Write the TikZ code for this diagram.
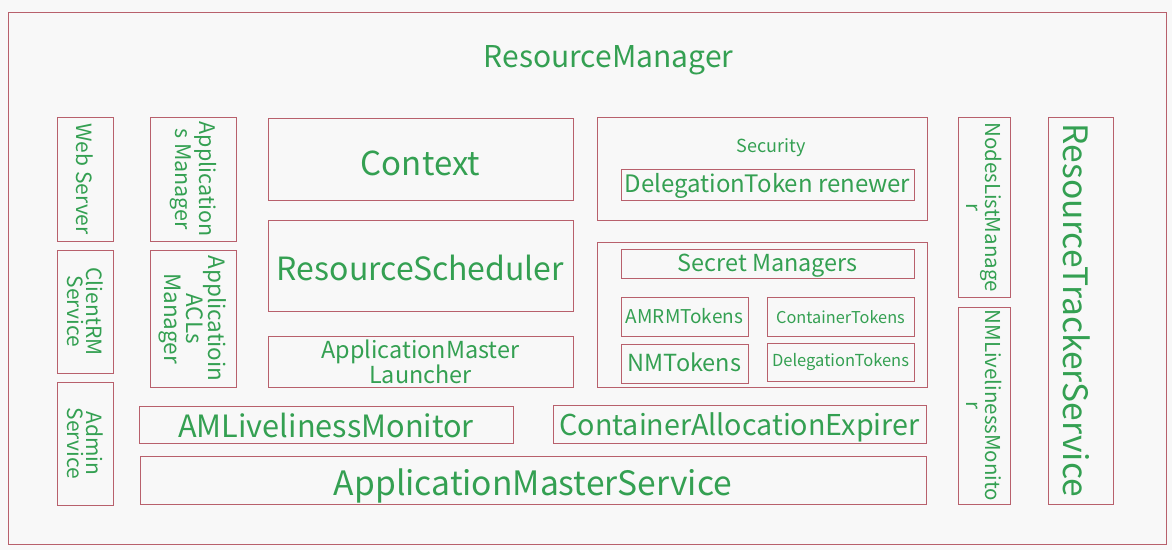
\documentclass[tikz,border=0pt]{standalone}
\usepackage{fontspec}
\setmainfont{Noto Sans CJK SC}
\usetikzlibrary{positioning}
\definecolor{rmgreen}{RGB}{52,160,82}
\definecolor{rmline}{RGB}{184,96,108}
\definecolor{rmbg}{RGB}{248,248,248}

\begin{document}
\begin{tikzpicture}[x=1pt, y=-1pt,
  box/.style={draw=rmline, line width=0.8pt, inner sep=0pt, align=center, text=rmgreen},
  vbox/.style={box, rotate=-90},
  fs/.style 2 args={font=\fontsize{#1}{#2}\selectfont},
  bl/.style={text height=#1, text depth=0pt}
]
% Canvas and outer frame
\fill[rmbg] (0,0) rectangle (1172,550);
\draw[rmline, line width=0.8pt] (8,12) rectangle (1166,544);
\node[text=rmgreen, inner sep=0pt, fs={30}{32}, bl=20pt] (rm) at (608.5,57) {ResourceManager};

% Left column: services
\node[vbox, minimum width=124pt, minimum height=56pt, fs={21}{19}] (web)    at (85,179)   {Web Server};
\node[vbox, minimum width=123pt, minimum height=56pt, fs={21}{19}] (client) at (85,311.5) {ClientRM\\Service};
\node[vbox, minimum width=123pt, minimum height=56pt, fs={21}{19}] (admin)  at (85,443.5) {Admin\\Service};

% Application managers
\node[vbox, minimum width=124pt, minimum height=86pt, fs={21.5}{24}] (apps) at (193,179)   {Application\\s Manager};
\node[vbox, minimum width=137pt, minimum height=86pt, fs={22.5}{22}] (acls) at (193,318.5) {Applicatioin\\ACLs\\Manager};

% Core
\node[box, minimum width=305pt, minimum height=82pt, fs={33}{34}, bl=32pt] (ctx)   at (420.5,159)   {Context};
\node[box, minimum width=305pt, minimum height=91pt, fs={32}{34}, bl=29pt] (sched) at (420.5,265.5) {ResourceScheduler};
\node[box, minimum width=305pt, minimum height=51pt, fs={23.4}{23}] (launcher)    at (420.5,361.5) {ApplicationMaster\\Launcher};

% Security
\node[box, minimum width=330pt, minimum height=103pt] (sec) at (762,168.5) {};
\node[text=rmgreen, fs={18}{20}] (sectitle) at (771,148) {Security};
\node[box, minimum width=293pt, minimum height=31pt, fs={24}{26}, bl=16.4pt] (renew) at (767.5,184.5) {DelegationToken renewer};

% Secret managers
\node[box, minimum width=330pt, minimum height=145pt] (secrets) at (762,314.5) {};
\node[box, minimum width=293pt, minimum height=29pt, fs={23.4}{24}, bl=16.4pt] (secmgr) at (767.5,263.5) {Secret Managers};
\node[box, minimum width=127pt, minimum height=39pt, fs={19}{20}, bl=13.6pt]   (amrm)   at (684.5,316.5) {AMRMTokens};
\node[box, minimum width=147pt, minimum height=39pt, fs={16.3}{17}, bl=13.6pt] (ctok)   at (840.5,316.5) {ContainerTokens};
\node[box, minimum width=127pt, minimum height=39pt, fs={23.5}{25}, bl=16.4pt] (nmtok)  at (684.5,363.5) {NMTokens};
\node[box, minimum width=147pt, minimum height=38pt, fs={16.5}{17}, bl=9.4pt]  (dtok)   at (840.5,362)   {DelegationTokens};

% Monitors and services
\node[box, minimum width=374pt, minimum height=37pt, fs={30.7}{31}, bl=25.4pt] (amlive) at (326,424.5) {AMLivelinessMonitor};
\node[box, minimum width=373pt, minimum height=38pt, fs={28.7}{31}, bl=22pt]   (cae)    at (739.5,424) {ContainerAllocationExpirer};
\node[box, minimum width=786pt, minimum height=48pt, fs={33.6}{36}, bl=29pt]   (ams)    at (533,480.5) {ApplicationMasterService};

% Right column: nodes
\node[vbox, minimum width=180pt, minimum height=52pt, fs={20.5}{19}] (nodes)  at (984,207)    {NodesListManage\\r};
\node[vbox, minimum width=197pt, minimum height=52pt, fs={20.5}{19}] (nmlive) at (984,405.5)  {NMLivelinessMonito\\r};
\node[vbox, minimum width=387pt, minimum height=65pt, fs={33.6}{35}, bl=35pt] (rts) at (1080.5,310.5) {ResourceTrackerService};
\end{tikzpicture}
\end{document}
